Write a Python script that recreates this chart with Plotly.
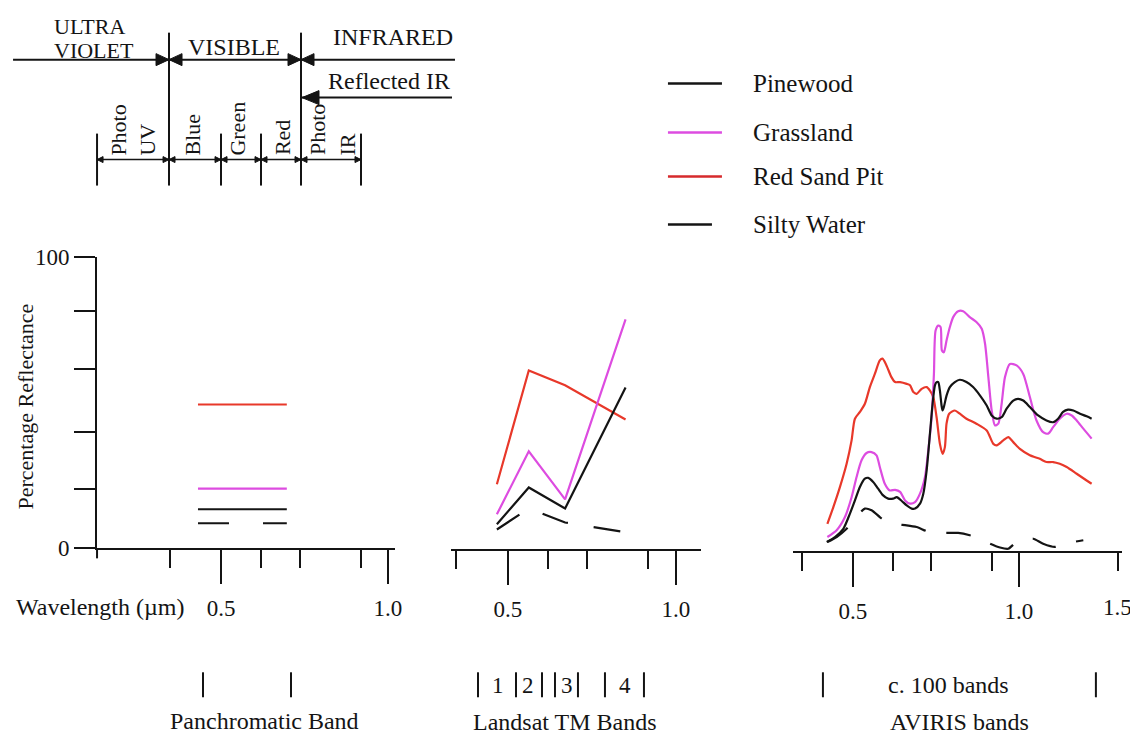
import plotly.graph_objects as go

SX, SY = 0.994, 0.967
OX, OY = 8, 20
W, H = 1140, 745
FONT = "Liberation Serif"
INK = "#141414"
PINK = "#dd4ce0"
RED = "#e8382a"
LEG_RED = "#d62a2c"

# ---------------- data ----------------
series_names = ["Pinewood", "Grassland", "Red Sand Pit", "Silty Water"]

# Panchromatic band (single broad band)
pan_x = [0.431, 0.697]
pan_pinewood = [13.4, 13.4]
pan_grassland = [20.5, 20.5]
pan_redsand = [49.3, 49.3]
pan_silty = [8.6, 8.6]

# Landsat TM bands 1-4
tm_x = [0.467, 0.562, 0.670, 0.850]
tm_pinewood = [8.6, 21.2, 14.0, 55.5]
tm_grassland = [12.0, 33.6, 17.1, 78.8]
tm_redsand = [22.3, 61.3, 56.2, 44.5]
tm_silty = [6.8, 14.0, 9.2, 5.9]

# AVIRIS (c. 100 bands)
av_pine_x = [0.421, 0.446, 0.471, 0.491, 0.506, 0.521, 0.536, 0.546, 0.561, 0.576,
             0.591, 0.606, 0.621, 0.632, 0.647, 0.662, 0.677, 0.687, 0.702, 0.712,
             0.722, 0.732, 0.740, 0.747, 0.752, 0.757, 0.762, 0.767, 0.770, 0.774,
             0.782, 0.792, 0.807, 0.822, 0.842, 0.862, 0.883, 0.903, 0.918, 0.933,
             0.948, 0.963, 0.983, 0.998, 1.013, 1.033, 1.058, 1.083, 1.103, 1.118,
             1.133, 1.148, 1.164, 1.184, 1.204, 1.219]
av_pine_y = [3.2, 4.9, 7.7, 12.9, 17.4, 22.0, 24.8, 25.1, 23.7, 21.4,
             19.1, 18.0, 18.0, 18.5, 17.2, 15.7, 14.6, 14.6, 16.3, 19.7,
             27.6, 40.2, 50.4, 56.7, 57.8, 57.8, 54.9, 49.8, 48.1, 49.3,
             53.2, 56.1, 57.8, 58.6, 57.8, 56.1, 53.2, 49.8, 46.4, 45.3,
             45.8, 48.7, 51.5, 52.1, 51.5, 49.3, 46.4, 44.7, 44.1, 45.3,
             47.6, 48.4, 48.1, 47.0, 46.1, 45.3]

av_grass_x = [0.423, 0.451, 0.476, 0.496, 0.511, 0.526, 0.541, 0.556, 0.571, 0.581,
              0.596, 0.611, 0.627, 0.642, 0.657, 0.672, 0.687, 0.702, 0.717, 0.727,
              0.737, 0.744, 0.749, 0.757, 0.764, 0.768, 0.774, 0.782, 0.792, 0.802,
              0.817, 0.832, 0.852, 0.872, 0.888, 0.898, 0.908, 0.918, 0.928, 0.938,
              0.948, 0.958, 0.973, 0.993, 1.013, 1.033, 1.053, 1.073, 1.088, 1.103,
              1.123, 1.144, 1.159, 1.174, 1.194, 1.219]
av_grass_y = [4.9, 7.2, 11.7, 18.5, 25.4, 31.1, 33.6, 33.9, 32.8, 28.8,
              23.1, 20.8, 21.0, 20.3, 17.4, 16.3, 16.8, 19.7, 25.4, 34.5,
              45.8, 60.6, 75.4, 77.1, 76.6, 68.6, 68.0, 72.0, 76.6, 80.0,
              82.0, 82.0, 80.0, 78.3, 76.0, 70.9, 59.5, 48.1, 43.0, 43.6,
              50.4, 59.5, 64.0, 63.5, 60.6, 52.7, 44.7, 40.7, 40.2, 42.4,
              45.3, 47.0, 46.4, 44.7, 41.9, 38.5]

av_sand_x = [0.423, 0.441, 0.461, 0.481, 0.496, 0.506, 0.521, 0.536, 0.551, 0.566,
             0.581, 0.589, 0.601, 0.616, 0.627, 0.642, 0.662, 0.672, 0.682, 0.692,
             0.707, 0.722, 0.732, 0.742, 0.752, 0.762, 0.770, 0.777, 0.782, 0.790,
             0.807, 0.822, 0.842, 0.872, 0.903, 0.923, 0.933, 0.953, 0.968, 0.983,
             1.003, 1.033, 1.063, 1.083, 1.103, 1.123, 1.144, 1.174, 1.204, 1.219]
av_sand_y = [9.4, 15.1, 22.0, 29.9, 37.9, 45.3, 47.6, 50.4, 56.1, 60.6,
             65.2, 65.8, 63.5, 59.5, 57.8, 57.8, 57.2, 56.7, 54.4, 53.8,
             55.5, 56.1, 54.9, 52.7, 45.8, 36.7, 33.3, 35.6, 43.6, 47.0,
             48.1, 47.0, 45.3, 43.6, 41.3, 36.7, 36.2, 37.9, 39.0, 37.3,
             35.0, 32.8, 31.6, 30.5, 30.5, 29.9, 28.8, 26.5, 24.2, 23.1]

av_silty_x = [0.423, 0.451, 0.481, 0.511, 0.536, 0.556, 0.581, 0.601, 0.632, 0.662,
              0.692, 0.722, 0.742, 0.782, 0.817, 0.852, 0.883, 0.913, 0.943, 0.968,
              0.993, 1.023, 1.043, 1.073, 1.108, 1.134, 1.164, 1.194]
av_silty_y = [3.2, 4.9, 7.7, 11.7, 14.6, 14.0, 11.7, 10.0, 9.2, 8.9,
              8.3, 6.9, 6.3, 6.3, 6.3, 5.5, 4.3, 2.6, 1.3, 0.9,
              3.2, 4.0, 4.3, 2.6, 1.5, 2.4, 3.2, 3.8]

# axis ticks
major_ticks = [0.5, 1.0]
major_labels = ["0.5", "1.0"]
boundary_ticks = [0.346, 0.62, 0.736, 0.918]
extra_tick_av = 1.298
extra_label_av = "1.5"
y_ticks = [0, 20.5, 40, 61.6, 81.5, 100]
y_labels = ["0", "", "", "", "", "100"]
tm_band_labels = ["1", "2", "3", "4"]


# ---------------- helpers (reference pixel -> paper) ----------------
def fx(x):
    return x / SX - OX


def fy(y):
    return y / SY - OY


def P(x):
    return fx(x) / W


def Q(y):
    return 1 - fy(y) / H


shapes = []
annotations = []


def seg(x0, y0, x1, y1, w=2.0, color=INK):
    shapes.append(dict(type="line", xref="paper", yref="paper",
                       x0=P(x0), y0=Q(y0), x1=P(x1), y1=Q(y1),
                       line=dict(color=color, width=w)))


def tri(xt, yt, d, L, h):
    path = (f"M {P(xt)},{Q(yt)} L {P(xt - d * L)},{Q(yt - h)} "
            f"L {P(xt - d * L)},{Q(yt + h)} Z")
    shapes.append(dict(type="path", xref="paper", yref="paper", path=path,
                       fillcolor=INK, line=dict(color=INK, width=1)))


def txt(x, y, s, size=22, xanchor="center", yanchor="middle", angle=0):
    annotations.append(dict(xref="paper", yref="paper", x=P(x), y=Q(y), text=s,
                            showarrow=False, xanchor=xanchor, yanchor=yanchor,
                            textangle=angle,
                            font=dict(family=FONT, size=size, color=INK)))


# ---------------- figure ----------------
fig = go.Figure()


def add(xs, ys, color, ax, dash=None, shape="linear"):
    ln = dict(color=color, width=2.2, shape=shape)
    if dash:
        ln["dash"] = dash
    if shape == "spline":
        ln["smoothing"] = 0.7
    fig.add_trace(go.Scatter(x=xs, y=ys, mode="lines", line=ln,
                             xaxis="x" + ax, yaxis="y" + ax,
                             showlegend=False, hoverinfo="skip"))


# panel 1
add(pan_x, pan_redsand, RED, "")
add(pan_x, pan_grassland, PINK, "")
add(pan_x, pan_pinewood, INK, "")
add(pan_x, pan_silty, INK, "", dash="31px,34px")
# panel 2
add(tm_x, tm_redsand, RED, "2")
add(tm_x, tm_grassland, PINK, "2")
add(tm_x, tm_pinewood, INK, "2")
add(tm_x, tm_silty, INK, "2", dash="27px,26px")
# panel 3
add(av_sand_x, av_sand_y, RED, "3", shape="spline")
add(av_grass_x, av_grass_y, PINK, "3", shape="spline")
add(av_pine_x, av_pine_y, INK, "3", shape="spline")
add(av_silty_x, av_silty_y, INK, "3", dash="25px,21px", shape="spline")


def xaxis(x0, x1, rng, anchor, minor_vals=None):
    return dict(domain=[P(x0), P(x1)], range=rng, anchor=anchor, showline=True,
                linecolor=INK, linewidth=2, showgrid=False, zeroline=False,
                ticks="outside", tickvals=major_ticks, ticktext=major_labels,
                ticklen=34, tickwidth=2, tickcolor=INK,
                tickfont=dict(family=FONT, size=23, color=INK),
                ticklabelstandoff=4, fixedrange=True,
                minor=dict(tickmode="array", tickvals=minor_vals or boundary_ticks,
                           ticks="outside", ticklen=18, tickwidth=2, tickcolor=INK,
                           showgrid=False))


def yaxis(y0, y100, anchor, visible):
    return dict(domain=[Q(y0), Q(y100)], range=[0, 100], anchor=anchor,
                visible=visible, showline=True, linecolor=INK, linewidth=2,
                showgrid=False, zeroline=False, ticks="outside", tickvals=y_ticks,
                ticktext=y_labels, ticklen=21, tickwidth=2, tickcolor=INK,
                tickfont=dict(family=FONT, size=23, color=INK),
                ticklabelstandoff=0, fixedrange=True)


fig.update_layout(
    width=W, height=H, autosize=False,
    margin=dict(l=0, r=0, t=0, b=0, pad=0),
    paper_bgcolor="white", plot_bgcolor="rgba(0,0,0,0)",
    showlegend=False,
    xaxis=xaxis(97, 395, [0.1287, 1.021], "y"),
    yaxis=yaxis(548, 256, "x", True),
    xaxis2=xaxis(451, 701, [0.3304, 1.0744], "y2"),
    yaxis2=yaxis(549, 257, "x2", False),
    xaxis3=xaxis(793, 1122, [0.3193, 1.3102], "y3",
                 minor_vals=boundary_ticks + [extra_tick_av]),
    yaxis3=yaxis(551, 258, "x3", False),
)

# extra "1.5" label on the AVIRIS axis
annotations.append(dict(xref="x3", yref="paper", x=extra_tick_av, y=Q(607),
                        text=extra_label_av, showarrow=False,
                        xanchor="center", yanchor="middle",
                        font=dict(family=FONT, size=23, color=INK)))

# y-axis extension below x-axis
seg(97, 548, 97, 558)

# axis titles
txt(25, 406, "Percentage Reflectance", size=22, angle=-90)
txt(14, 607, "Wavelength (\u00b5m)", size=24, xanchor="left")

# ---------------- spectrum diagram ----------------
HL = 59  # main horizontal dimension line
seg(13, HL, 455, HL, w=2)
seg(169, 32, 169, 185, w=2)
seg(301, 32, 301, 185, w=2)
tri(169, HL, +1, 13, 6)
tri(169, HL, -1, 13, 6)
tri(301, HL, +1, 13, 6)
tri(301, HL, -1, 13, 6)
seg(301, 97, 452, 97, w=2)
tri(302, 97, -1, 17, 7)
for bx in [97, 221, 261, 361]:
    seg(bx, 133, bx, 185, w=2)
seg(97, 159, 361, 159, w=1.5)
for bx, dirs in [(97, [-1]), (169, [1, -1]), (221, [1, -1]), (261, [1, -1]),
                 (301, [1, -1]), (361, [1])]:
    for d in dirs:
        tri(bx, 159, d, 6, 3)

txt(52, 26, "ULTRA", size=22, xanchor="left")
txt(52, 50, "VIOLET", size=22, xanchor="left")
txt(186, 46, "VISIBLE", size=24, xanchor="left")
txt(331, 36, "INFRARED", size=24, xanchor="left")
txt(326, 80, "Reflected IR", size=24, xanchor="left")
for x, s in [(118.5, "Photo"), (148, "UV"), (193, "Blue"), (238, "Green"),
             (282, "Red"), (317, "Photo"), (348, "IR")]:
    txt(x, 157, s, size=22, yanchor="bottom", angle=-90)

# ---------------- legend ----------------
leg_colors = [INK, PINK, LEG_RED, INK]
leg_y = [83, 132, 176, 224]
leg_end = [722, 722, 722, 712]
for name, c, y, xe in zip(series_names, leg_colors, leg_y, leg_end):
    seg(668, y, xe, y, w=2.5, color=c)
    txt(751, y, name, size=25, xanchor="left")


# ---------------- band markers ----------------
def bar(x):
    seg(x, 672, x, 697, w=2)


for x in [203, 291]:
    bar(x)
txt(264, 721, "Panchromatic Band", size=24)
for x in [478, 516, 542, 555, 578, 605, 644]:
    bar(x)
for x, s in zip([498, 528, 567, 625], tm_band_labels):
    txt(x, 685, s, size=23)
txt(565, 722, "Landsat TM Bands", size=24)
for x in [823, 1096]:
    bar(x)
txt(949, 685, "c. 100 bands", size=24)
txt(960, 722, "AVIRIS bands", size=24)

fig.update_layout(shapes=shapes, annotations=annotations)
fig.write_html("out.html")
